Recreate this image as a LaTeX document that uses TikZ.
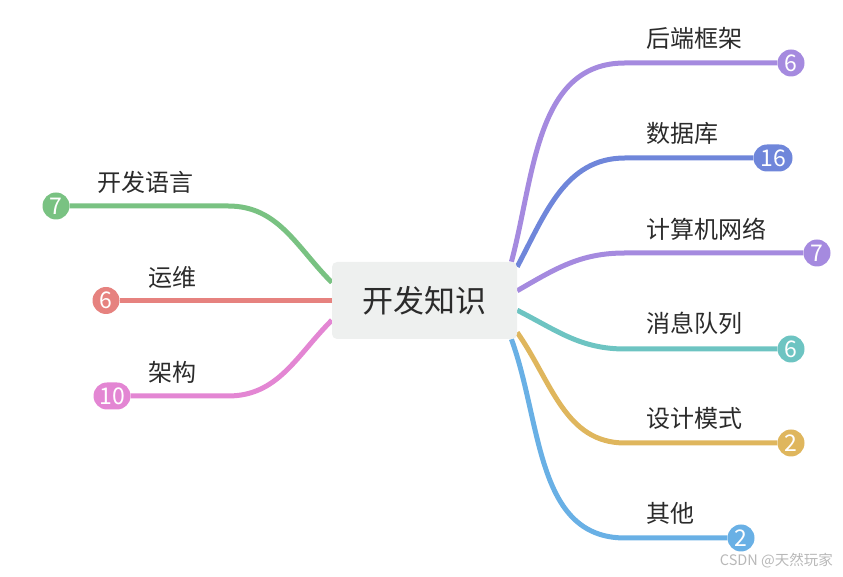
\documentclass[tikz,border=0pt]{standalone}
\usepackage{fontspec}
\setmainfont{Noto Sans CJK SC}
\usepackage{tikz}
\usetikzlibrary{positioning}
\usetikzlibrary{backgrounds}

\definecolor{hubfill}{HTML}{EEF0EF}
\definecolor{inktext}{HTML}{2B2B2B}
\definecolor{cGreen}{HTML}{79C282}
\definecolor{cRed}{HTML}{E6827F}
\definecolor{cPink}{HTML}{E386D3}
\definecolor{cPurple}{HTML}{A58ADF}
\definecolor{cBlue}{HTML}{6F86DA}
\definecolor{cTeal}{HTML}{6DC4C2}
\definecolor{cYellow}{HTML}{DFB65D}
\definecolor{cSky}{HTML}{69B0E5}

\begin{document}
\begin{tikzpicture}[
    x=1pt, y=1pt,
    hub/.style={rectangle,fill=hubfill,rounded corners=5pt,minimum width=185pt,minimum height=77pt,
        text=inktext,font=\fontsize{31}{35}\selectfont},
    topic/.style={anchor=west,inner sep=0pt,text=inktext,font=\fontsize{24}{28}\selectfont},
    badge/.style={circle,fill=#1,text=white,inner sep=0pt,minimum size=27pt,font=\fontsize{23}{23}\selectfont},
    pill/.style={rectangle,rounded corners=13.5pt,fill=#1,text=white,inner sep=0pt,
        minimum height=27pt,minimum width=39pt,font=\fontsize{23}{23}\selectfont},
    branch/.style={draw=#1,line width=5pt}
]
\useasboundingbox (0,0) rectangle (843,577);

\node[hub] (hub) at (424.5,276.5) {开发知识};

\node[badge=cPurple] (n1) at (791,514) {6};
\node[pill=cBlue] (n2) at (773,419) {16};
\node[badge=cPurple] (n3) at (817,324) {7};
\node[badge=cTeal] (n4) at (791,228) {6};
\node[badge=cYellow] (n5) at (791,134) {2};
\node[badge=cSky] (n6) at (741,39) {2};
\node[badge=cGreen] (m1) at (56,371) {7};
\node[badge=cRed] (m2) at (106,276.5) {6};
\node[pill=cPink,minimum width=37pt] (m3) at (112,181) {10};

\coordinate (k1) at (625,514);
\coordinate (k2) at (625,419);
\coordinate (k3) at (625,324);
\coordinate (k4) at (625,228);
\coordinate (k5) at (625,134);
\coordinate (k6) at (625,39);
\coordinate (j1) at (228,371);
\coordinate (j3) at (228,181);

\node[topic] (t1) at (646,539) {后端框架};
\node[topic] (t2) at (646,444) {数据库};
\node[topic] (t3) at (646,348) {计算机网络};
\node[topic] (t4) at (646,254) {消息队列};
\node[topic] (t5) at (646,159) {设计模式};
\node[topic] (t6) at (646,64) {其他};
\node[topic] (s1) at (97,395) {开发语言};
\node[topic] (s2) at (148,300) {运维};
\node[topic] (s3) at (148,205) {架构};

\node[anchor=east,inner sep=0pt,text=black!28,font=\fontsize{14.5}{16}\selectfont] (mark) at (833,16) {CSDN @天然玩家};

\begin{scope}[on background layer]
\draw[branch=cPurple] (hub.24) to[out=75,in=180] (k1) -- (n1);
\draw[branch=cBlue] (hub.20) to[out=62,in=180] (k2) -- (n2);
\draw[branch=cPurple] (hub.6) to[out=30,in=180] (k3) -- (n3);
\draw[branch=cTeal] (hub.-6) to[out=-27,in=180] (k4) -- (n4);
\draw[branch=cYellow] (hub.-19) to[out=-55,in=180] (k5) -- (n5);
\draw[branch=cSky] (hub.-24) to[out=-70,in=180] (k6) -- (n6);
\draw[branch=cGreen] (hub.169) to[out=135,in=0] (j1) -- (m1);
\draw[branch=cRed] (hub.west) -- (m2);
\draw[branch=cPink] (hub.192) to[out=225,in=0] (j3) -- (m3);
\end{scope}
\end{tikzpicture}
\end{document}
